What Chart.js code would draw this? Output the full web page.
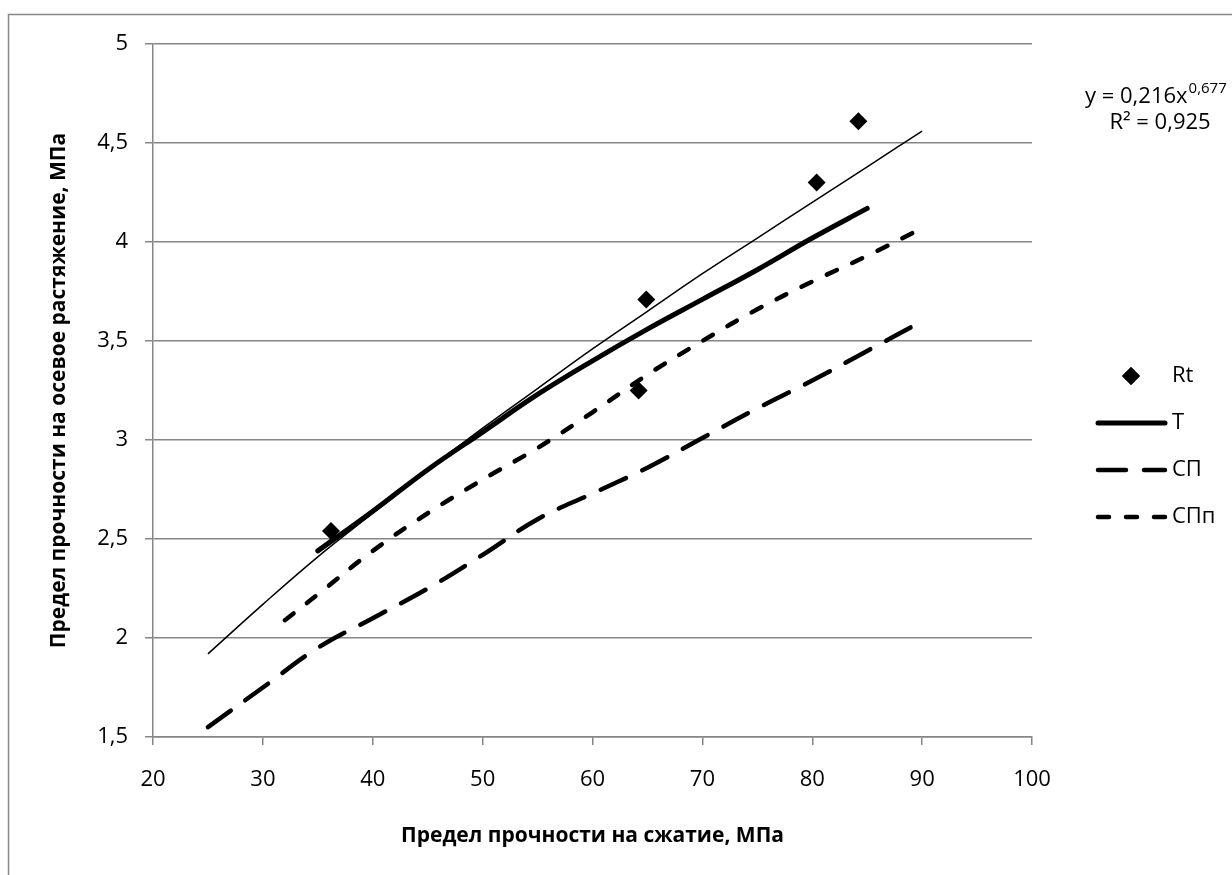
<!DOCTYPE html>
<html>
<head>
<meta charset="utf-8">
<script src="https://cdn.jsdelivr.net/npm/chart.js@4.4.1/dist/chart.umd.min.js"></script>
<style>
  html, body { margin: 0; padding: 0; background: #fff; }
  #wrap { width: 1232px; height: 875px; position: relative; overflow: hidden; }
</style>
</head>
<body>
<div id="wrap"><canvas id="myChart" width="1232" height="875"></canvas></div>
<script>
// оси
const xTicks = [20, 30, 40, 50, 60, 70, 80, 90, 100];
const yTicks = [1.5, 2, 2.5, 3, 3.5, 4, 4.5, 5];
const yTickLabels = ['1,5', '2', '2,5', '3', '3,5', '4', '4,5', '5'];

// опытные точки Rt
const rtX = [36.2, 64.9, 64.2, 80.4, 84.2];
const rtY = [2.54, 3.71, 3.25, 4.30, 4.61];

// степенная линия тренда по Rt
const trendX = [25, 30, 35, 40, 45, 50, 55, 60, 65, 70, 75, 80, 85, 90];
const trendY = [1.92, 2.17, 2.41, 2.63, 2.85, 3.06, 3.26, 3.46, 3.65, 3.84, 4.02, 4.20, 4.38, 4.56];

// T
const tX = [35, 40, 45, 50, 55, 60, 65, 70, 75, 80, 85];
const tY = [2.44, 2.64, 2.85, 3.04, 3.23, 3.40, 3.56, 3.71, 3.86, 4.02, 4.17];

// СП
const spX = [25, 30, 35, 40, 45, 50, 55, 60, 65, 70, 75, 80, 85, 90];
const spY = [1.55, 1.75, 1.95, 2.10, 2.25, 2.42, 2.60, 2.73, 2.86, 3.01, 3.16, 3.30, 3.45, 3.60];

// СПп
const sppX = [32, 35, 40, 45, 50, 55, 60, 65, 70, 75, 80, 85, 90];
const sppY = [2.09, 2.22, 2.44, 2.63, 2.80, 2.96, 3.14, 3.33, 3.50, 3.66, 3.80, 3.93, 4.07];

const equation = 'y = 0,216x';
const equationPow = '0,677';
const rSquared = 'R² = 0,925';

const xTitle = 'Предел прочности на сжатие, МПа';
const yTitle = 'Предел прочности на осевое растяжение, МПа';

const FONT = "'Open Sans', 'DejaVu Sans', sans-serif";
const GRID = '#868686';

function pts(xs, ys) {
  return xs.map((x, i) => ({ x: x, y: ys[i] }));
}

// рамка, легенда и уравнение тренда
const decorPlugin = {
  id: 'decor',
  beforeDraw(chart) {
    const c = chart.ctx;
    c.save();
    c.strokeStyle = GRID;
    c.lineWidth = 1.5;
    c.strokeRect(8.5, 14.5, 2000, 2000);
    c.restore();
  },
  afterDraw(chart) {
    const c = chart.ctx;
    c.save();
    c.fillStyle = '#000';
    c.strokeStyle = '#000';
    c.textBaseline = 'middle';
    c.font = '22px ' + FONT;

    // легенда
    let y = 376;
    chart.data.datasets.forEach((ds) => {
      if (ds.hideInLegend) return;
      if (ds.showLine === false) {
        Chart.helpers.drawPoint(c, { pointStyle: 'rectRot', radius: 9, borderWidth: 0 }, 1131, y);
        c.fillStyle = '#000';
        c.fill();
      } else {
        c.beginPath();
        c.lineWidth = ds.borderWidth;
        c.lineCap = 'round';
        c.setLineDash(ds.borderDash || []);
        c.moveTo(1098, y);
        c.lineTo(1165, y);
        c.stroke();
        c.setLineDash([]);
      }
      c.textAlign = 'left';
      c.fillText(ds.label, 1172, y);
      y += 47;
    });

    // уравнение
    c.textAlign = 'left';
    c.font = '22px ' + FONT;
    c.fillText(equation, 1085, 97);
    const w = c.measureText(equation).width;
    c.font = '15px ' + FONT;
    c.fillText(equationPow, 1085 + w + 1, 89);
    c.font = '22px ' + FONT;
    c.textAlign = 'center';
    c.fillText(rSquared, 1160, 123);
    c.restore();
  }
};

const ctx = document.getElementById('myChart');
const chart = new Chart(ctx, {
  type: 'scatter',
  data: {
    datasets: [
      {
        label: 'Rt',
        data: pts(rtX, rtY),
        showLine: false,
        pointStyle: 'rectRot',
        pointRadius: 9,
        pointBackgroundColor: '#000',
        pointBorderWidth: 0,
        order: 0
      },
      {
        label: 'Степенная (Rt)',
        data: pts(trendX, trendY),
        showLine: true,
        hideInLegend: true,
        borderColor: '#000',
        borderWidth: 1.5,
        pointRadius: 0,
        tension: 0.4
      },
      {
        label: 'T',
        data: pts(tX, tY),
        showLine: true,
        borderColor: '#000',
        borderWidth: 5,
        borderCapStyle: 'round',
        pointRadius: 0,
        tension: 0.4
      },
      {
        label: 'СП',
        data: pts(spX, spY),
        showLine: true,
        borderColor: '#000',
        borderWidth: 4.5,
        borderCapStyle: 'round',
        borderDash: [28, 18],
        pointRadius: 0,
        tension: 0.4
      },
      {
        label: 'СПп',
        data: pts(sppX, sppY),
        showLine: true,
        borderColor: '#000',
        borderWidth: 4.5,
        borderCapStyle: 'round',
        borderDash: [11, 17],
        pointRadius: 0,
        tension: 0.4
      }
    ]
  },
  options: {
    responsive: false,
    animation: false,
    devicePixelRatio: 1,
    layout: { padding: { top: 44, right: 200, left: 0, bottom: 0 } },
    plugins: {
      legend: { display: false },
      tooltip: { enabled: false }
    },
    scales: {
      x: {
        type: 'linear',
        min: 20,
        max: 100,
        afterFit(scale) { scale.height = 138; },
        afterBuildTicks(scale) { scale.ticks = xTicks.map(v => ({ value: v })); },
        ticks: {
          color: '#000',
          font: { family: FONT, size: 22 },
          padding: 22,
          maxRotation: 0,
          callback: (v) => String(v)
        },
        grid: { drawOnChartArea: false, color: GRID, lineWidth: 1.5, tickLength: 8 },
        border: { color: GRID, width: 1.5 },
        title: {
          display: true,
          text: xTitle,
          color: '#000',
          font: { family: FONT, size: 21, weight: 'bold' },
          padding: { bottom: 26 }
        }
      },
      y: {
        type: 'linear',
        min: 1.5,
        max: 5,
        afterFit(scale) { scale.width = 153; },
        afterBuildTicks(scale) { scale.ticks = yTicks.map(v => ({ value: v })); },
        ticks: {
          color: '#000',
          font: { family: FONT, size: 22 },
          padding: 17,
          callback: (v) => yTickLabels[yTicks.indexOf(v)]
        },
        grid: { color: GRID, lineWidth: 1.5, tickLength: 8 },
        border: { color: GRID, width: 1.5 },
        title: {
          display: true,
          text: yTitle,
          color: '#000',
          font: { family: FONT, size: 21, weight: 'bold' },
          padding: { top: 46 }
        }
      }
    }
  },
  plugins: [decorPlugin]
});
</script>
</body>
</html>
